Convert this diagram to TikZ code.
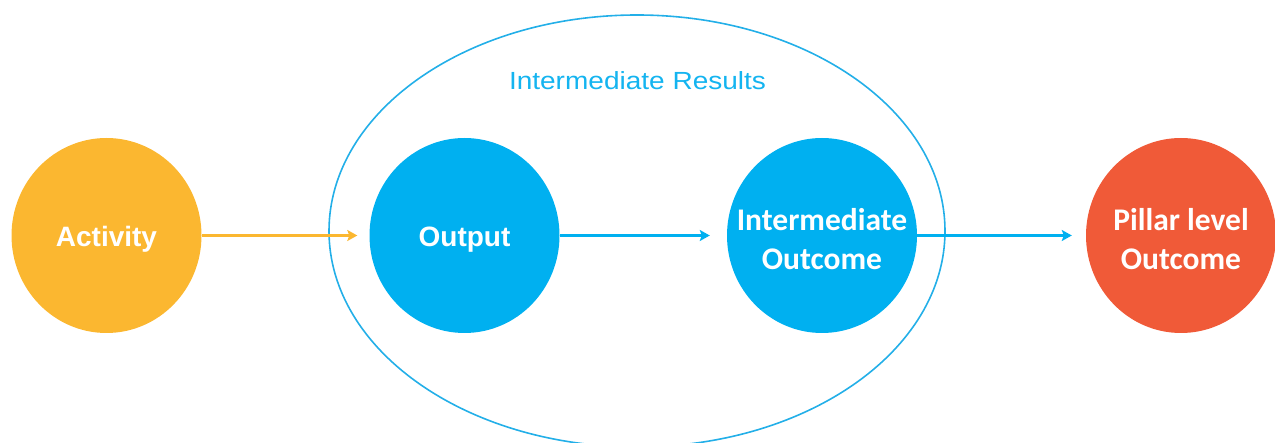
\documentclass[tikz,border=0pt]{standalone}
\usepackage{fontspec}
\setmainfont{Liberation Sans}
\newfontfamily\calib{Carlito}
\usetikzlibrary{shapes.geometric,arrows.meta}
\definecolor{actorange}{RGB}{251,183,48}
\definecolor{irblue}{RGB}{0,176,240}
\definecolor{pillarred}{RGB}{240,90,56}
\definecolor{ringblue}{RGB}{35,175,232}
\definecolor{titleblue}{RGB}{20,180,240}
\tikzset{
  bub/.style={ellipse, draw=none, minimum width=190pt, minimum height=195pt, inner sep=0pt},
  arial/.style={text=white, font=\fontsize{28}{33}\selectfont\bfseries},
  calibri/.style={text=white, align=center, font=\calib\fontsize{31.5}{39}\selectfont\bfseries},
  conn/.style={line width=2.5pt, -{Stealth[length=10pt,width=11pt,inset=2pt]}},
}
\begin{document}
\begin{tikzpicture}[x=1pt,y=-1pt]
\useasboundingbox (0,0) rectangle (1275,443);
% enclosing ellipse
\node[ellipse, draw=ringblue, line width=1.6pt, minimum width=616pt, minimum height=432pt, inner sep=0pt] (ir) at (637,231) {};
\node[text=titleblue, font=\fontsize{24.8}{28}\selectfont, xscale=1.13, anchor=base] (irlab) at (637.5,89.5) {Intermediate Results};
% circles
\node[bub, fill=actorange] (act) at (106.5,235.5) {};
\node[bub, fill=irblue] (out) at (464.5,235.5) {};
\node[bub, fill=irblue] (imo) at (822,235.5) {};
\node[bub, fill=pillarred] (pil) at (1181,235.5) {};
% labels
\node[arial] (actL) at ([yshift=-4pt]act.center) {Activity};
\node[arial] (outL) at ([yshift=-4pt]out.center) {Output};
\node[calibri] (imoL) at ([yshift=-4pt]imo.center) {Intermediate\\Outcome};
\node[calibri] (pilL) at ([yshift=-4pt]pil.center) {Pillar level\\Outcome};
% connectors
\draw[conn, draw=actorange, shorten >=12pt] (act.east) -- (out.west);
\draw[conn, draw=irblue, shorten >=17pt] (out.east) -- (imo.west);
\draw[conn, draw=irblue, shorten >=14pt] (imo.east) -- (pil.west);
\end{tikzpicture}
\end{document}
